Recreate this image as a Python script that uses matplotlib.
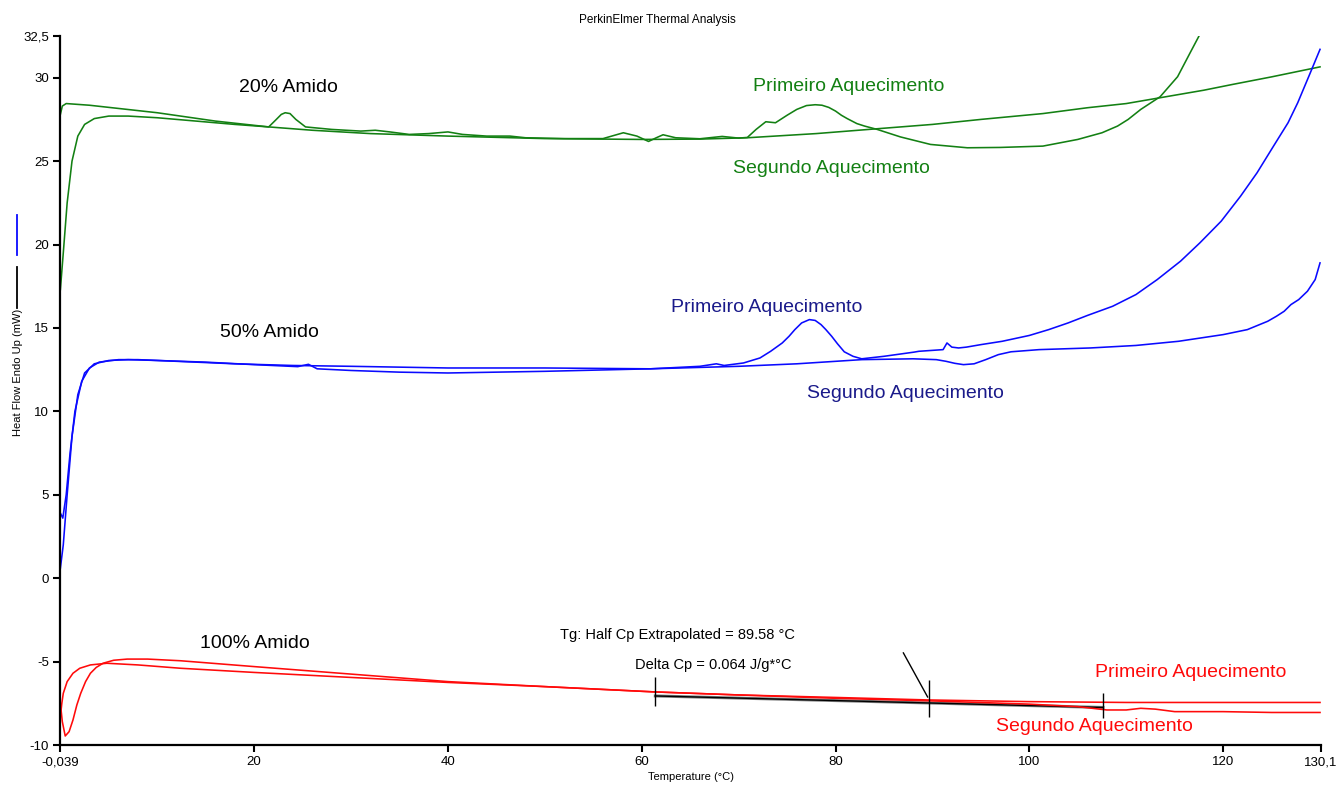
import matplotlib
matplotlib.use("Agg")
import matplotlib.pyplot as plt
from matplotlib.lines import Line2D

plt.rcParams['font.family'] = ['Liberation Sans', 'DejaVu Sans']

# ---------------- data (Temperature °C, Heat Flow mW) ----------------
g1_t = [0.0, 0.3, 0.7, 1.2, 1.8, 2.5, 3.5, 5.0, 7.0, 10.0, 14.0, 18.0, 21.5, 22.2, 22.8, 23.2, 23.7,
        24.3, 25.3, 28.0, 31.0, 32.5, 34.0, 36.0, 38.0, 40.0, 41.5, 44.0, 46.4, 48.0, 52.0, 56.0,
        57.2, 58.1, 59.5, 60.7, 61.5, 62.2, 63.5, 66.0, 68.3, 70.0, 70.9, 71.8, 72.8, 73.8, 75.0,
        76.0, 77.0, 77.9, 78.6, 79.3, 80.0, 80.6, 81.2, 82.2, 83.0, 84.3, 86.7, 89.8, 93.6, 97.0,
        101.4, 105.0, 107.5, 109.1, 110.2, 111.5, 113.5, 115.3, 116.6, 117.6]
g1_v = [17.3, 19.5, 22.5, 25.0, 26.5, 27.2, 27.55, 27.7, 27.7, 27.6, 27.4, 27.2, 27.05, 27.45, 27.8,
        27.9, 27.85, 27.5, 27.05, 26.9, 26.8, 26.85, 26.75, 26.6, 26.65, 26.75, 26.6, 26.5, 26.5,
        26.4, 26.35, 26.35, 26.55, 26.7, 26.5, 26.18, 26.4, 26.58, 26.4, 26.34, 26.48, 26.38, 26.42,
        26.9, 27.36, 27.3, 27.75, 28.1, 28.33, 28.38, 28.35, 28.22, 28.0, 27.75, 27.55, 27.25,
        27.1, 26.9, 26.45, 26.0, 25.8, 25.82, 25.9, 26.3, 26.7, 27.1, 27.5, 28.1, 28.86, 30.06,
        31.5, 32.6]

g2_t = [0.0, 0.2, 0.6, 3.0, 10.0, 16.0, 21.5, 26.0, 32.0, 40.0, 50.0, 60.0, 66.0, 70.9, 78.0, 84.3,
        90.0, 95.0, 101.4, 106.0, 110.0, 113.5, 118.0, 121.0, 125.0, 130.0]
g2_v = [27.8, 28.3, 28.45, 28.35, 27.9, 27.4, 27.05, 26.85, 26.65, 26.5, 26.35, 26.3, 26.32, 26.4,
        26.65, 26.94, 27.2, 27.5, 27.85, 28.2, 28.45, 28.8, 29.25, 29.6, 30.05, 30.65]

b1_t = [0.0, 0.3, 0.7, 1.2, 1.8, 2.5, 3.5, 5.0, 7.0, 10.0, 15.0, 20.0, 24.5, 25.6, 26.5, 30.0, 35.0,
        40.0, 50.0, 60.9, 66.0, 67.7, 68.5, 70.5, 72.2, 73.3, 74.5, 75.2, 75.8, 76.5, 77.3, 77.9,
        78.5, 79.0, 79.6, 80.2, 80.9, 81.8, 82.7, 85.0, 88.1, 88.6, 91.1, 91.5, 92.0, 92.7, 93.5,
        95.0, 97.2, 100.0, 102.0, 104.0, 106.0, 108.6, 111.0, 113.2, 115.6, 117.6, 119.8, 121.8,
        123.5, 125.2, 126.7, 127.7, 129.0, 130.0]
b1_v = [0.6, 2.0, 5.0, 8.5, 11.0, 12.3, 12.85, 13.05, 13.1, 13.05, 12.95, 12.8, 12.68, 12.82, 12.55,
        12.45, 12.35, 12.3, 12.4, 12.55, 12.7, 12.85, 12.75, 12.9, 13.2, 13.6, 14.1, 14.5, 14.9,
        15.3, 15.5, 15.45, 15.2, 14.9, 14.5, 14.05, 13.57, 13.3, 13.15, 13.3, 13.55, 13.6, 13.7,
        14.1, 13.85, 13.8, 13.85, 14.0, 14.2, 14.55, 14.9, 15.3, 15.75, 16.3, 17.0, 17.9, 19.0,
        20.1, 21.4, 22.9, 24.3, 25.9, 27.3, 28.5, 30.3, 31.7]

b2_t = [0.0, 0.25, 0.6, 1.0, 1.5, 2.2, 3.0, 4.0, 6.0, 8.0, 12.0, 18.0, 24.0, 30.0, 40.0, 50.0, 60.9,
        70.0, 76.0, 82.7, 88.0, 90.4, 91.4, 92.3, 93.2, 94.3, 95.5, 96.8, 98.1, 101.0, 106.3, 111.0,
        115.4, 120.0, 122.5, 124.6, 125.5, 126.3, 127.0, 127.8, 128.7, 129.5, 130.0]
b2_v = [3.9, 3.6, 5.0, 7.5, 10.0, 11.8, 12.6, 12.95, 13.1, 13.1, 13.0, 12.85, 12.75, 12.7, 12.6,
        12.6, 12.55, 12.7, 12.85, 13.1, 13.15, 13.1, 13.0, 12.88, 12.8, 12.85, 13.1, 13.4, 13.57,
        13.7, 13.8, 13.95, 14.2, 14.6, 14.9, 15.4, 15.7, 16.0, 16.4, 16.7, 17.2, 17.9, 18.9]

r1_t = [0.0, 0.2, 0.5, 0.9, 1.3, 1.7, 2.1, 2.6, 3.1, 3.7, 4.4, 5.5, 6.9, 9.0, 12.4, 20.0, 30.0, 40.0,
        50.0, 61.4, 70.0, 80.0, 89.6, 100.0, 110.0, 120.0, 130.0]
r1_v = [-7.5, -8.6, -9.46, -9.2, -8.5, -7.6, -6.9, -6.2, -5.7, -5.35, -5.1, -4.92, -4.85, -4.85,
        -4.95, -5.3, -5.75, -6.2, -6.5, -6.82, -7.0, -7.15, -7.3, -7.4, -7.45, -7.45, -7.45]

r2_t = [0.0, 0.15, 0.3, 0.7, 1.3, 2.0, 3.1, 4.8, 8.0, 12.4, 20.0, 30.0, 40.0, 50.0, 61.4, 70.0, 80.0,
        89.6, 100.0, 105.0, 108.0, 110.0, 111.5, 113.0, 115.0, 120.0, 125.0, 130.0]
r2_v = [-8.3, -7.5, -6.9, -6.2, -5.7, -5.4, -5.2, -5.1, -5.2, -5.4, -5.65, -5.95, -6.25, -6.5, -6.82,
        -7.0, -7.2, -7.35, -7.55, -7.7, -7.9, -7.9, -7.8, -7.85, -8.0, -8.0, -8.05, -8.05]

# Tg analysis (baseline and markers)
tg_base_t = [61.4, 89.6, 107.6]
tg_base_v = [-7.06, -7.48, -7.75]
tg_mark_t = [61.4, 89.6, 107.6]
tg_mark_lo = [-7.66, -8.3, -8.4]
tg_mark_hi = [-5.92, -6.1, -6.9]
tg_pointer_t = [87.0, 89.5]
tg_pointer_v = [-4.48, -7.12]

xticks = [-0.039, 20, 40, 60, 80, 100, 120, 130.1]
xtick_labels = ['-0,039', '20', '40', '60', '80', '100', '120', '130,1']
yticks = [-10, -5, 0, 5, 10, 15, 20, 25, 30, 32.5]
ytick_labels = ['-10', '-5', '0', '5', '10', '15', '20', '25', '30', '32,5']

GREEN = '#138013'
BLUE = '#0a0aff'
NAVY = '#1a1a8a'
RED = '#ff0a0a'

# ---------------- figure ----------------
fig = plt.figure(figsize=(13.38, 7.87), dpi=100)
ax = fig.add_axes([60 / 1338, 1 - 745 / 787, (1321 - 60) / 1338, (745 - 36) / 787])

lw = 1.15
ax.plot(g2_t, g2_v, color=GREEN, lw=lw)
ax.plot(g1_t, g1_v, color=GREEN, lw=lw)
ax.plot(b2_t, b2_v, color=BLUE, lw=lw)
ax.plot(b1_t, b1_v, color=BLUE, lw=lw)
ax.plot(tg_base_t, tg_base_v, color='#808080', lw=2.2)
ax.plot(tg_base_t, tg_base_v, color='black', lw=1.0)
ax.plot(r2_t, r2_v, color=RED, lw=lw)
ax.plot(r1_t, r1_v, color=RED, lw=lw)
ax.vlines(tg_mark_t, tg_mark_lo, tg_mark_hi, color='black', lw=1.0)
ax.plot(tg_pointer_t, tg_pointer_v, color='black', lw=1.0)

ax.set_xlim(-0.039, 130.1)
ax.set_ylim(-10, 32.5)
ax.set_xticks(xticks)
ax.set_xticklabels(xtick_labels)
ax.set_yticks(yticks)
ax.set_yticklabels(ytick_labels)
ax.tick_params(direction='out', length=5, width=1.5, labelsize=9.5, colors='black', pad=3)
for s in ['top', 'right']:
    ax.spines[s].set_visible(False)
for s in ['left', 'bottom']:
    ax.spines[s].set_linewidth(1.6)

ax.set_xlabel('Temperature (°C)', fontsize=8, labelpad=3)

# labels
tfs = 14
ax.text(23.5, 29.4, '20% Amido', fontsize=tfs, ha='center', va='center', color='black')
ax.text(81.4, 29.46, 'Primeiro Aquecimento', fontsize=tfs, ha='center', va='center', color=GREEN)
ax.text(79.6, 24.55, 'Segundo Aquecimento', fontsize=tfs, ha='center', va='center', color=GREEN)
ax.text(21.6, 14.75, '50% Amido', fontsize=tfs, ha='center', va='center', color='black')
ax.text(72.9, 16.2, 'Primeiro Aquecimento', fontsize=tfs, ha='center', va='center', color=NAVY)
ax.text(87.2, 11.1, 'Segundo Aquecimento', fontsize=tfs, ha='center', va='center', color=NAVY)
ax.text(20.1, -3.93, '100% Amido', fontsize=tfs, ha='center', va='center', color='black')
ax.text(116.7, -5.68, 'Primeiro Aquecimento', fontsize=tfs, ha='center', va='center', color=RED)
ax.text(106.7, -8.9, 'Segundo Aquecimento', fontsize=tfs, ha='center', va='center', color=RED)
ax.text(51.6, -3.4, 'Tg: Half Cp Extrapolated = 89.58 °C', fontsize=10.5, ha='left', va='center',
        color='black')
ax.text(59.3, -5.2, 'Delta Cp = 0.064 J/g*°C', fontsize=10.5, ha='left', va='center', color='black')

fig.text(657 / 1338, 1 - 20 / 787, 'PerkinElmer Thermal Analysis', fontsize=8.5, ha='center',
         va='center')
fig.text(18 / 1338, 1 - 372 / 787, 'Heat Flow Endo Up (mW)', fontsize=8, rotation=90,
         ha='center', va='center')
fig.add_artist(Line2D([17 / 1338, 17 / 1338], [1 - 215 / 787, 1 - 255 / 787],
                      transform=fig.transFigure, color=BLUE, lw=1.3))
fig.add_artist(Line2D([17 / 1338, 17 / 1338], [1 - 267 / 787, 1 - 308 / 787],
                      transform=fig.transFigure, color='black', lw=1.3))

fig.savefig('out.png', dpi=100)
